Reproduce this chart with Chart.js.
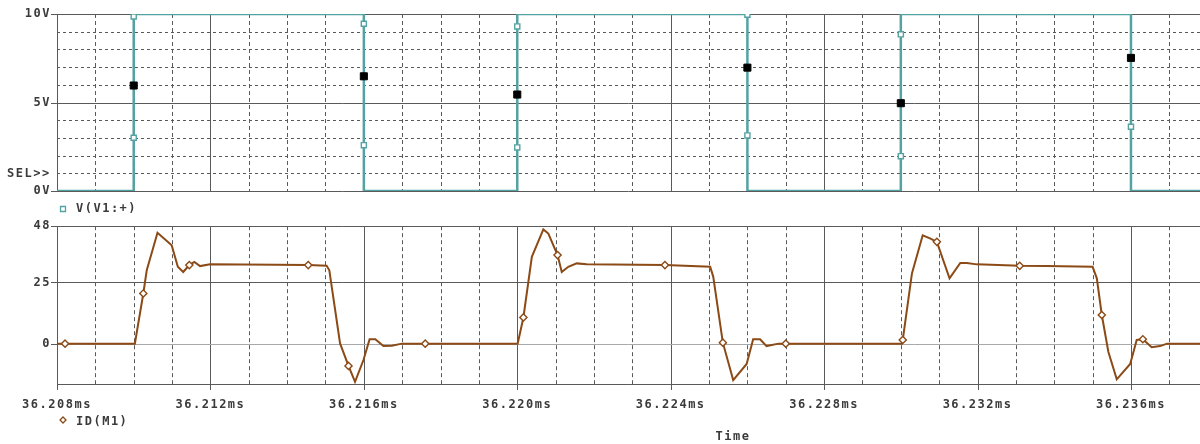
<!DOCTYPE html>
<html><head><meta charset="utf-8">
<script src="https://cdn.jsdelivr.net/npm/chart.js@4.4.1/dist/chart.umd.min.js"></script>
<style>
html,body{margin:0;padding:0;background:#fff;width:1200px;height:444px;overflow:hidden}
canvas{position:absolute;left:0;display:block}
#top{top:0}
#bot{top:213px}
</style></head><body>
<canvas id="top" width="1200" height="213"></canvas>
<canvas id="bot" width="1200" height="231"></canvas>
<script>
// ---- data (time in microseconds after 36.208 ms) ----
const T0_MS = 36.208;
const X_MAX_US = 29.8;
const xTickUs = [0, 4, 8, 12, 16, 20, 24, 28];
const xTickLabels = ['36.208ms','36.212ms','36.216ms','36.220ms','36.224ms','36.228ms','36.232ms','36.236ms'];

const vTickValues = [0, 5, 10];
const vTickLabels = ['0V', '5V', '10V'];
const iTickValues = [0, 25, 48];
const iTickLabels = ['0', '25', '48'];

// V(V1:+)
const vTimeUs = [0, 2, 2, 8, 8, 12, 12, 18, 18, 22, 22, 28, 28, 29.8];
const vVolts  = [0, 0, 10, 10, 0, 0, 10, 10, 0, 0, 10, 10, 0, 0];
const vMarkUs = [2, 2, 8, 8, 12, 12, 18, 18, 22, 22, 28];
const vMarkV  = [9.86, 3.01, 9.45, 2.59, 9.30, 2.46, 9.96, 3.14, 8.85, 1.97, 3.63];
const cursorUs = [2, 8, 12, 18, 22, 28];
const cursorV  = [5.96, 6.48, 5.45, 6.97, 4.96, 7.52];

// ID(M1)
const iTimeUs = [0, 0.21, 2.03, 2.25, 2.34, 2.62, 2.99, 3.15, 3.29, 3.45,
  3.58, 3.73, 3.99, 6.55, 7.03, 7.10, 7.38, 7.60, 7.77, 7.99,
  8.15, 8.30, 8.51, 8.73, 8.99, 9.60, 12.01, 12.16, 12.38, 12.68,
  12.81, 13.05, 13.16, 13.33, 13.55, 13.81, 15.85, 17.03, 17.11, 17.36,
  17.63, 17.98, 18.15, 18.33, 18.50, 18.81, 19.00, 22.03, 22.05, 22.29,
  22.57, 22.76, 22.94, 23.27, 23.55, 23.72, 23.98, 25.10, 25.80, 27.00,
  27.11, 27.24, 27.41, 27.63, 27.98, 28.15, 28.31, 28.54, 28.76, 28.94, 29.80];
const iAmps = [0, 0, 0, 20.5, 30.0, 45.3, 40.2, 31.4, 29.3, 32.1,
  33.4, 31.7, 32.4, 32.1, 31.8, 30.0, 0.1, -9.1, -15.6, -6.7,
  1.8, 1.8, -1.0, -0.9, 0, 0, 0, 10.7, 35.5, 46.7,
  45.0, 36.2, 29.3, 31.4, 32.8, 32.4, 32.1, 31.4, 27.3, 0.4,
  -14.9, -8.3, 1.8, 1.8, -1.0, 0, 0, 0, 1.5, 28.7,
  44.3, 43.0, 41.6, 26.7, 33.0, 33.0, 32.4, 31.8, 31.7, 31.4,
  26.7, 11.7, -3.3, -14.6, -8.3, 1.5, 1.8, -1.5, -1.0, 0, 0];
const iMarkUs = [0.21, 2.25, 3.45, 6.55, 7.60, 9.60, 12.16, 13.05, 15.85, 17.36, 19.00, 22.05, 22.94, 25.10, 27.24, 28.31];
const iMarkA  = [0, 20.5, 32.1, 32.1, -9.1, 0, 10.7, 36.2, 32.1, 0.4, 0, 1.5, 41.6, 31.8, 11.7, 1.8];

// ---- styling ----
const TEAL = '#55a2a2';
const BROWN = '#8b4a16';
const TXT = '#3a3a3a';
const GRID = '#5a5a5a';
const FONT = {family: "'DejaVu Sans Mono', monospace", size: 12, weight: 'bold'};
const pts = (xs, ys) => xs.map((x, i) => ({x, y: ys[i]}));

function hline(ctx, a, py, dash, color) {
  ctx.beginPath(); ctx.setLineDash(dash); ctx.strokeStyle = color;
  ctx.moveTo(a.left, py); ctx.lineTo(a.right, py); ctx.stroke();
}
function vline(ctx, a, px, dash, color) {
  ctx.beginPath(); ctx.setLineDash(dash); ctx.strokeStyle = color;
  ctx.moveTo(px, a.top); ctx.lineTo(px, a.bottom); ctx.stroke();
}

const gridPlugin = {
  id: 'pspiceGrid',
  beforeDraw(chart) { chart.ctx.letterSpacing = '1.5px'; },
  beforeDatasetsDraw(chart, args, opts) {
    const {ctx, chartArea: a, scales: {x, y}} = chart;
    ctx.save();
    ctx.lineWidth = 1;
    for (let t = 1; t < X_MAX_US; t++) {
      const px = Math.round(x.getPixelForValue(t)) + 0.5;
      if (t % 4 === 0) vline(ctx, a, px, [], GRID);
      else vline(ctx, a, px, [4, 3], GRID);
    }
    opts.hSolid.forEach(v => hline(ctx, a, Math.round(y.getPixelForValue(v)) + 0.5, [], GRID));
    (opts.hDashed || []).forEach(v => hline(ctx, a, Math.round(y.getPixelForValue(v)) + 0.5, [3, 3], GRID));
    (opts.hLight || []).forEach(v => hline(ctx, a, Math.round(y.getPixelForValue(v)) + 0.5, [], '#a8a8a8'));
    ctx.setLineDash([]); ctx.strokeStyle = GRID;
    ctx.beginPath(); ctx.moveTo(a.left + 0.5, a.top); ctx.lineTo(a.left + 0.5, a.bottom); ctx.stroke();
    opts.yTicks.forEach(v => {
      const py = Math.round(y.getPixelForValue(v)) + 0.5;
      ctx.beginPath(); ctx.moveTo(a.left - 6, py); ctx.lineTo(a.left, py); ctx.stroke();
    });
    if (opts.xTicks) {
      const by = Math.round(a.bottom) + 0.5;
      ctx.beginPath(); ctx.moveTo(a.left, by); ctx.lineTo(a.right, by); ctx.stroke();
      xTickUs.forEach(t => {
        const px = Math.round(x.getPixelForValue(t)) + 0.5;
        ctx.beginPath(); ctx.moveTo(px, a.bottom); ctx.lineTo(px, a.bottom + 6); ctx.stroke();
      });
    }
    ctx.restore();
  },
  afterDraw(chart, args, opts) {
    const ctx = chart.ctx;
    ctx.save();
    ctx.letterSpacing = '1.5px';
    ctx.font = "bold 12px 'DejaVu Sans Mono', monospace";
    ctx.fillStyle = TXT;
    ctx.textBaseline = 'middle';
    (opts.texts || []).forEach(t => {
      ctx.textAlign = t.align || 'left';
      ctx.fillText(t.text, t.x, t.y);
    });
    (opts.symbols || []).forEach(s => {
      ctx.lineWidth = 1.3; ctx.strokeStyle = s.color; ctx.fillStyle = '#fff'; ctx.setLineDash([]);
      ctx.beginPath();
      if (s.kind === 'square') { ctx.rect(s.x - 2.5, s.y - 2.5, 5, 5); }
      else { ctx.moveTo(s.x, s.y - 3); ctx.lineTo(s.x + 3, s.y); ctx.lineTo(s.x, s.y + 3); ctx.lineTo(s.x - 3, s.y); ctx.closePath(); }
      ctx.fill(); ctx.stroke();
    });
    ctx.restore();
  }
};

function xScale(show) {
  const s = {
    type: 'linear', min: 0, max: X_MAX_US, display: show,
    grid: {display: false, drawTicks: false}, border: {display: false},
    afterBuildTicks: sc => { sc.ticks = xTickUs.map(v => ({value: v})); },
    ticks: {
      callback: (v, i) => xTickLabels[i], color: TXT, font: FONT,
      padding: 14, maxRotation: 0, autoSkip: false
    }
  };
  if (show) s.afterFit = sc => { sc.height = 60; };
  return s;
}
function yScale(min, max, vals, labels) {
  return {
    type: 'linear', min, max,
    grid: {display: false, drawTicks: false}, border: {display: false},
    afterBuildTicks: s => { s.ticks = vals.map(v => ({value: v})); },
    afterFit: s => { s.width = 57; },
    ticks: {callback: (v, i) => labels[i], color: TXT, font: FONT, padding: 6}
  };
}

Chart.register(gridPlugin);

new Chart(document.getElementById('top'), {
  type: 'line',
  data: {
    datasets: [
      {label: 'V(V1:+)', data: pts(vTimeUs, vVolts), borderColor: TEAL, borderWidth: 2.5,
       pointRadius: 0, tension: 0, fill: false, order: 3},
      {label: 'markers', data: pts(vMarkUs, vMarkV), showLine: false, pointStyle: 'rect',
       pointRadius: 3.6, borderColor: TEAL, backgroundColor: '#fff', pointBorderWidth: 1.4, order: 2},
      {label: 'cursor', data: pts(cursorUs, cursorV), showLine: false, pointStyle: 'rect',
       pointRadius: 5, borderColor: '#000', backgroundColor: '#000', pointBorderWidth: 1, order: 1}
    ]
  },
  options: {
    responsive: false, animation: false, devicePixelRatio: 1,
    layout: {autoPadding: false, padding: {top: 14, bottom: 22, left: 0, right: 0}},
    plugins: {
      legend: {display: false}, tooltip: {enabled: false},
      pspiceGrid: {
        hSolid: [0, 5, 10], hDashed: [1, 2, 3, 4, 6, 7, 8, 9], yTicks: [0, 5, 10],
        texts: [{text: 'SEL>>', x: 7, y: 174}, {text: 'V(V1:+)', x: 76, y: 209}],
        symbols: [{kind: 'square', x: 63, y: 209, color: TEAL}]
      }
    },
    scales: {x: xScale(false), y: yScale(0, 10, vTickValues, vTickLabels)}
  }
});

new Chart(document.getElementById('bot'), {
  type: 'line',
  data: {
    datasets: [
      {label: 'ID(M1)', data: pts(iTimeUs, iAmps), borderColor: BROWN, borderWidth: 2,
       pointRadius: 0, tension: 0, fill: false, order: 2},
      {label: 'markers', data: pts(iMarkUs, iMarkA), showLine: false, pointStyle: 'rectRot',
       pointRadius: 3.6, borderColor: BROWN, backgroundColor: '#fff', pointBorderWidth: 1.4, order: 1}
    ]
  },
  options: {
    responsive: false, animation: false, devicePixelRatio: 1,
    layout: {autoPadding: false, padding: {top: 7, bottom: 0, left: 0, right: 0}},
    plugins: {
      legend: {display: false}, tooltip: {enabled: false},
      pspiceGrid: {
        hSolid: [25, 48, -16.5], hLight: [0], yTicks: [0, 25, 48], xTicks: true,
        texts: [{text: 'ID(M1)', x: 76, y: 209}, {text: 'Time', x: 733, y: 224, align: 'center'}],
        symbols: [{kind: 'diamond', x: 63, y: 207, color: BROWN}]
      }
    },
    scales: {x: xScale(true), y: yScale(-16.5, 48, iTickValues, iTickLabels)}
  }
});
</script>
</body></html>
